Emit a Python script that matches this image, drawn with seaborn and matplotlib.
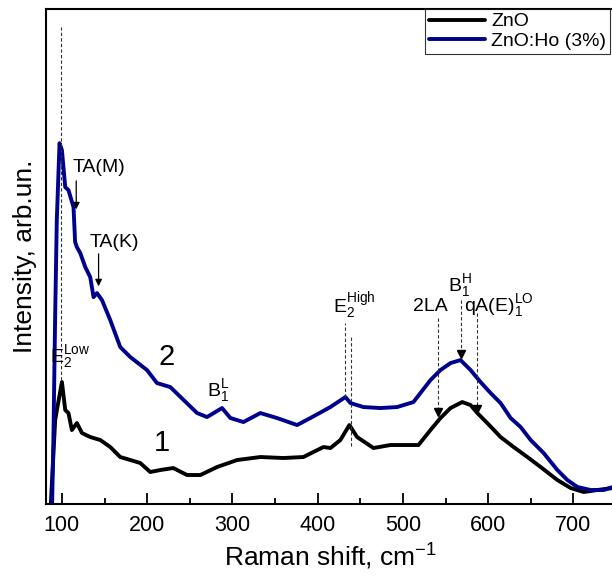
import numpy as np
import pandas as pd
import seaborn as sns
import matplotlib.pyplot as plt

# Raman shift (cm-1) and intensity (arb. units)
zno_shift = [87, 92.1, 94.1, 100, 103.9, 107.7, 111.7, 117.6, 123.5, 133.2, 145, 156.7,
             168.4, 180.2, 191.9, 203.6, 215.4, 230.6, 246.7, 262.4, 282, 305.5, 332.7,
             359.8, 383.2, 406.7, 415, 426.6, 437.2, 446.2, 465.4, 485.3, 504.9, 518.2,
             532.3, 544, 555.8, 569.5, 579.3, 587.2, 598.9, 614.5, 629.8, 645.9, 661.5,
             681.1, 696.7, 712, 728, 746]
zno_int = [0, 84, 94, 122, 94, 91, 74, 81, 71, 67, 64, 57,
           47, 44, 41, 32, 34, 36, 29, 29, 37, 44, 47,
           46, 47, 57, 56, 64, 79, 67, 56, 59, 59, 59,
           74, 86, 96, 102, 99, 91, 81, 67, 57, 47, 37,
           24, 16, 12, 14, 16]

zno_ho_shift = [88.5, 90, 92, 94, 97.2, 100, 103.9, 107.7, 113.6, 115.5, 117.6, 121.5,
                127.4, 133.2, 137.1, 141.1, 147, 156.7, 168.4, 180.2, 199.8, 211.5,
                227.1, 242.8, 258.5, 270.2, 287.8, 297.6, 312.9, 332.7, 352.3, 375.8,
                391.4, 414.9, 432.5, 438.4, 453.6, 473.6, 493.2, 512.3, 532.3, 544,
                555.8, 567.5, 579.3, 591, 602.8, 614.5, 626.3, 638, 649.8, 665, 681.1,
                692.8, 704.6, 720.2, 735.5, 746]
zno_ho_int = [0, 64, 184, 284, 361, 354, 317, 314, 297, 262, 257, 251,
              237, 227, 207, 211, 204, 184, 157, 147, 134, 121,
              117, 104, 91, 87, 96, 86, 82, 91, 86, 79,
              86, 97, 107, 101, 97, 96, 97, 102, 124, 134,
              141, 144, 134, 122, 111, 101, 86, 77, 64, 51, 34,
              24, 17, 14, 14, 17]

blue = '#00008E'

sns.set_theme(style='ticks')
plt.rcParams['font.family'] = ['Liberation Sans', 'DejaVu Sans']
plt.rcParams['mathtext.fontset'] = 'custom'
plt.rcParams['mathtext.rm'] = 'Liberation Sans'
plt.rcParams['mathtext.it'] = 'Liberation Sans'
plt.rcParams['text.color'] = 'black'
plt.rcParams['axes.labelcolor'] = 'black'
plt.rcParams['xtick.color'] = 'black'

fig = plt.figure(figsize=(6.12, 5.76), dpi=100)
ax = fig.add_axes([0.0747, 0.125, 0.932, 0.859])

df1 = pd.DataFrame({'shift': zno_shift, 'intensity': zno_int})
df2 = pd.DataFrame({'shift': zno_ho_shift, 'intensity': zno_ho_int})
sns.lineplot(data=df1, x='shift', y='intensity', color='black', lw=2.8, ax=ax,
             label='ZnO', sort=False)
sns.lineplot(data=df2, x='shift', y='intensity', color=blue, lw=2.8, ax=ax,
             label='ZnO:Ho (3%)', sort=False)

ax.set_xlim(81, 750)
ax.set_ylim(0, 495)
ax.set_xticks(np.arange(100, 701, 100))
ax.set_xticks(np.arange(150, 751, 100), minor=True)
ax.set_yticks([])
ax.tick_params(axis='x', which='major', direction='in', length=8, width=1.3,
               labelsize=15.5, pad=8)
ax.tick_params(axis='x', which='minor', direction='in', length=4, width=1.3)
for s in ['left', 'top', 'bottom']:
    ax.spines[s].set_linewidth(1.5)
    ax.spines[s].set_color('black')
ax.spines['right'].set_visible(False)

ax.set_xlabel('Raman shift, cm$^{-1}$', fontsize=19, labelpad=4)
ax.set_ylabel('Intensity, arb.un.', fontsize=19, labelpad=6)

# dashed marker lines
dash = dict(color='#333333', ls=(0, (3, 2)), lw=0.8)
ax.plot([99.5, 99.5], [124, 477], **dash)
ax.plot([432.5, 432.5], [107, 181], **dash)
ax.plot([438.5, 438.5], [58, 167], **dash)
for xv, top, bot in [(541.3, 186, 92), (568.3, 204, 150), (586.3, 191, 95)]:
    ax.plot([xv, xv], [top, bot], **dash)
    ax.plot(xv, bot, marker='v', color='black', ms=6, ls='none')

# solid arrows
arrow = dict(arrowstyle='-|>', color='black', lw=0.9, mutation_scale=10)
ax.annotate('', xy=(116.8, 292), xytext=(116.8, 326), arrowprops=arrow)
ax.annotate('', xy=(143, 215), xytext=(143, 253), arrowprops=arrow)

fs = 14
ax.text(143.8, 337, 'TA(M)', fontsize=fs, ha='center', va='center')
ax.text(161.5, 262, 'TA(K)', fontsize=fs, ha='center', va='center')
ax.text(110, 148, r'E$_2^{\rm Low}$', fontsize=fs, ha='center', va='center')
ax.text(283.7, 113, r'B$_1^{\rm L}$', fontsize=fs, ha='center', va='center')
ax.text(443, 198, r'E$_2^{\rm High}$', fontsize=fs, ha='center', va='center')
ax.text(532.3, 198, '2LA', fontsize=fs, ha='center', va='center')
ax.text(566.3, 219, r'B$_1^{\rm H}$', fontsize=fs, ha='center', va='center')
ax.text(612, 199, r'qA(E)$_1^{\rm LO}$', fontsize=fs, ha='center', va='center')
ax.text(222.5, 147, '2', fontsize=21, ha='center', va='center')
ax.text(217.7, 61, '1', fontsize=21, ha='center', va='center')

leg = ax.legend(loc='upper right', bbox_to_anchor=(610 / 612, 1 - 9 / 576),
                bbox_transform=fig.transFigure, borderaxespad=0, fontsize=14,
                frameon=True, fancybox=False, handlelength=2.9, handletextpad=0.3,
                labelspacing=0.1, borderpad=0.2)
leg.get_frame().set_edgecolor('black')
leg.get_frame().set_linewidth(0.8)

fig.savefig('out.png', dpi=100)
